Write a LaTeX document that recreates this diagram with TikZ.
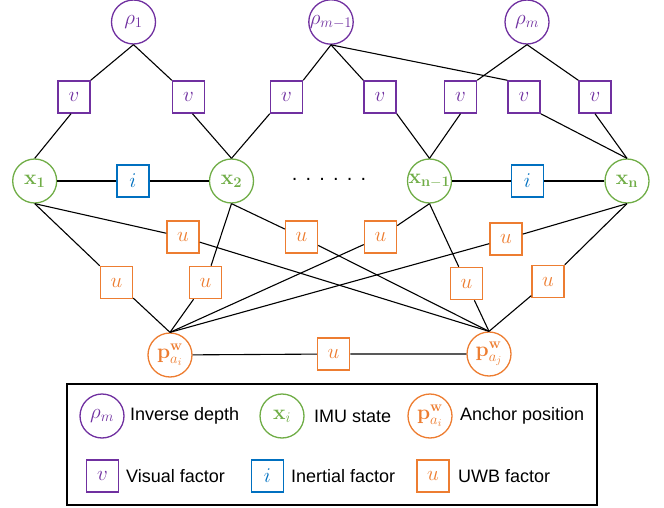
\RequirePackage{fix-cm}
\documentclass[tikz,border=0pt]{standalone}
\usepackage[no-math]{fontspec}
\setmainfont{Liberation Sans}
\usetikzlibrary{calc}
\definecolor{cpur}{RGB}{112,48,160}
\definecolor{cgrn}{RGB}{112,173,71}
\definecolor{cblu}{RGB}{0,112,192}
\definecolor{cora}{RGB}{237,125,49}
\tikzset{
  var/.style={circle, draw, line width=1.3pt, minimum size=44pt, inner sep=0pt, font=\fontsize{21}{24}\selectfont},
  fac/.style={rectangle, draw, line width=1.5pt, minimum size=32pt, inner sep=0pt, font=\fontsize{21}{24}\selectfont},
  pur/.style={draw=cpur, text=cpur},
  grn/.style={draw=cgrn, text=cgrn},
  blu/.style={draw=cblu, text=cblu},
  ora/.style={draw=cora, text=cora},
  edge/.style={draw=black, line width=1.1pt},
  legtext/.style={anchor=west, inner sep=0pt, font=\fontsize{18}{20}\selectfont}
}
\begin{document}
\begin{tikzpicture}[x=1pt,y=-1pt]
\useasboundingbox (0,0) rectangle (664,508);
% variable nodes
\node[var,pur] (r1) at (133.5,22) {$\rho_1$};
\node[var,pur] (rm1) at (331,22) {$\rho_{m-1}$};
\node[var,pur] (rm) at (527,22) {$\rho_m$};
\node[var,grn] (x1) at (34.7,181) {$\mathbf{x}_{\mathbf{1}}$};
\node[var,grn] (x2) at (231.5,181) {$\mathbf{x}_{\mathbf{2}}$};
\node[var,grn] (xn1) at (429.5,181) {$\mathbf{x}_{\mathbf{n-1}}$};
\node[var,grn] (xn) at (627,181) {$\mathbf{x}_{\mathbf{n}}$};
\node[var,ora] (pai) at (170,355) {$\mathbf{p}^{\mathbf{w}}_{a_i}$};
\node[var,ora] (paj) at (489,354) {$\mathbf{p}^{\mathbf{w}}_{a_j}$};
% visual factors
\node[fac,pur] (v1) at (74,97) {$v$};
\node[fac,pur] (v2) at (188.5,97) {$v$};
\node[fac,pur] (v3) at (286.5,97) {$v$};
\node[fac,pur] (v4) at (380,97) {$v$};
\node[fac,pur] (v5) at (460.5,97) {$v$};
\node[fac,pur] (v6) at (524,97) {$v$};
\node[fac,pur] (v7) at (595,97) {$v$};
% inertial factors
\node[fac,blu] (i1) at (133,181) {$i$};
\node[fac,blu] (i2) at (527.5,181) {$i$};
% dots
\node[inner sep=0pt, font=\fontsize{20}{20}\selectfont] (dots) at (329,179) {.\hspace{8.2pt}.\hspace{8.2pt}.\hspace{8.2pt}.\hspace{8.2pt}.\hspace{8.2pt}.};
% uwb factors
\node[fac,ora] (ua) at (183,237) {$u$};
\node[fac,ora] (ub) at (301.5,237) {$u$};
\node[fac,ora] (uc) at (380.5,237) {$u$};
\node[fac,ora] (ud) at (506,239) {$u$};
\node[fac,ora] (ue) at (116.5,282.5) {$u$};
\node[fac,ora] (uf) at (205.5,282.5) {$u$};
\node[fac,ora] (ug) at (466.5,283.5) {$u$};
\node[fac,ora] (uh) at (548,281.5) {$u$};
\node[fac,ora] (ubot) at (333.5,354) {$u$};
% edges rho - v
\draw[edge] (r1.south) -- (v1.north east);
\draw[edge] (r1.south) -- (v2.north west);
\draw[edge] (rm1.south) -- (v3.north east);
\draw[edge] (rm1.south) -- (v4.north west);
\draw[edge] (rm1.south) -- (v6.north west);
\draw[edge] (rm.south) -- (v5.north east);
\draw[edge] (rm.south) -- (v7.north west);
% edges v - x
\draw[edge] ($(v1.south)+(-3,0)$) -- (x1.north);
\draw[edge] ($(v2.south)+(4,0)$) -- (x2.north);
\draw[edge] (v3.south west) -- (x2.north);
\draw[edge] (v4.south east) -- (xn1.north);
\draw[edge] (v5.south) -- (xn1.north);
\draw[edge] (v6.south east) -- (xn.north);
\draw[edge] (v7.south) -- (xn.north);
% inertial
\draw[edge] (x1) -- (i1) -- (x2);
\draw[edge] (xn1) -- (i2) -- (xn);
% x - u
\draw[edge] (x1.south) -- (ue.north west);
\draw[edge] (x1.south) -- (ua);
\draw[edge] (x2.south) -- (uf);
\draw[edge] (x2.south) -- (ub);
\draw[edge] (xn1.south) -- (uc);
\draw[edge] (xn1.south) -- (ug);
\draw[edge] (xn.south) -- (ud);
\draw[edge] (xn.south) -- (uh.north east);
% u - p
\draw[edge] (ue) -- (pai.north);
\draw[edge] (uf) -- (pai.north);
\draw[edge] (uc) -- (pai.north);
\draw[edge] (ud) -- (pai.north);
\draw[edge] (ua) -- (paj.north);
\draw[edge] (ub) -- (paj.north);
\draw[edge] (ug) -- (paj.north);
\draw[edge] (uh) -- (paj.north);
\draw[edge] (pai) -- (ubot) -- (paj);
% legend
\node[draw=black, line width=1.6pt, minimum width=530pt, minimum height=121pt, inner sep=0pt] (legend) at (332,444.5) {};
\node[var,pur] (lr) at (102,416) {$\rho_m$};
\node[legtext] (tr) at (130,416) {Inverse depth};
\node[var,grn] (lx) at (282,416) {$\mathbf{x}_i$};
\node[legtext] (tx) at (314,416) {IMU state};
\node[var,ora] (lp) at (430,416) {$\mathbf{p}^{\mathbf{w}}_{a_i}$};
\node[legtext] (tp) at (460,416) {Anchor position};
\node[fac,pur] (lv) at (102.5,476) {$v$};
\node[legtext] (tv) at (126,476) {Visual factor};
\node[fac,blu] (li) at (267.5,476) {$i$};
\node[legtext] (ti) at (291,476) {Inertial factor};
\node[fac,ora] (lu) at (433,476) {$u$};
\node[legtext] (tu) at (458,476) {UWB factor};
\end{tikzpicture}
\end{document}
